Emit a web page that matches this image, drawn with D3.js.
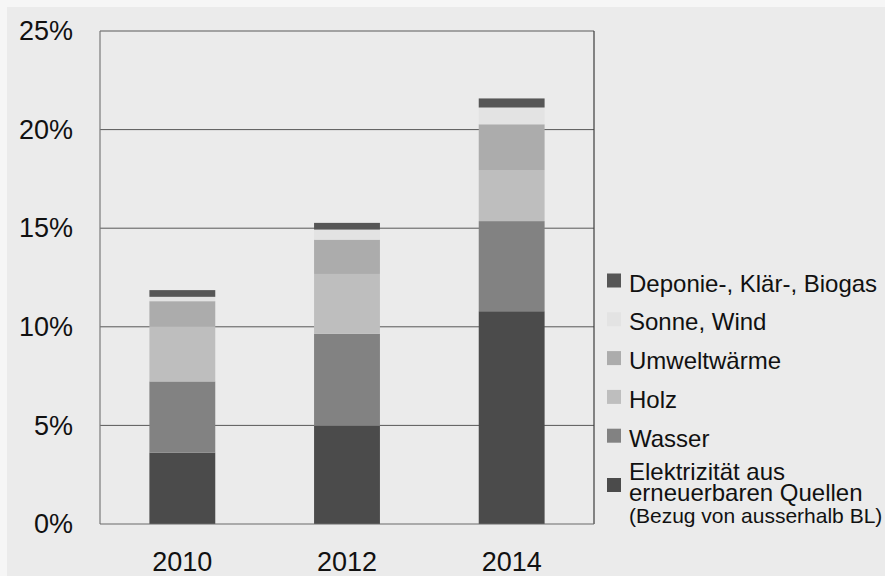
<!DOCTYPE html>
<html>
<head>
<meta charset="utf-8">
<script src="https://cdn.jsdelivr.net/npm/d3@7"></script>
<style>
  html, body { margin: 0; padding: 0; background: #f6f6f6; }
  svg { display: block; font-family: "Liberation Sans", Arial, sans-serif; }
</style>
</head>
<body>
<svg id="chart" width="885" height="576"></svg>
<script>
// Anteil erneuerbarer Energien, gestapelt nach Quelle (in %)
const years = ["2010", "2012", "2014"];
const sources = ["Elektrizität", "Wasser", "Holz", "Umweltwärme", "Sonne, Wind", "Deponie-, Klär-, Biogas"];
const elektrizitaet = [3.62, 4.98, 10.79];
const wasser        = [3.61, 4.67, 4.57];
const holz          = [2.80, 3.03, 2.59];
const umweltwaerme  = [1.27, 1.74, 2.32];
const sonneWind     = [0.22, 0.51, 0.85];
const deponieGas    = [0.34, 0.34, 0.46];
const yTicks = [0, 5, 10, 15, 20, 25];
const colors = ["#4b4b4b", "#828282", "#bebebe", "#acacac", "#e3e3e3", "#565656"];

// Legend entries, top to bottom; each entry is a list of [text, font size]
const legendItems = [
  { key: "Deponie-, Klär-, Biogas", lines: [["Deponie-, Klär-, Biogas", 24]] },
  { key: "Sonne, Wind", lines: [["Sonne, Wind", 24]] },
  { key: "Umweltwärme", lines: [["Umweltwärme", 24]] },
  { key: "Holz", lines: [["Holz", 24]] },
  { key: "Wasser", lines: [["Wasser", 24]] },
  { key: "Elektrizität", lines: [["Elektrizität aus", 24], ["erneuerbaren Quellen", 24], ["(Bezug von ausserhalb BL)", 21]] }
];

const seriesValues = [elektrizitaet, wasser, holz, umweltwaerme, sonneWind, deponieGas];
const table = years.map((yr, i) => {
  const row = { year: yr };
  sources.forEach((s, k) => { row[s] = seriesValues[k][i]; });
  return row;
});

const svg = d3.select("#chart");
const W = 885, H = 576;
const plot = { left: 100, right: 594, top: 31, bottom: 524 };

svg.append("rect").attr("x", 7).attr("y", 7).attr("width", W - 7).attr("height", H - 7).attr("fill", "#ebebeb");

const x = d3.scaleBand().domain(years).range([plot.left, plot.right]).paddingInner(0.6).paddingOuter(0.3);
const y = d3.scaleLinear().domain([0, 25]).range([plot.bottom, plot.top]);
const color = d3.scaleOrdinal().domain(sources).range(colors);

// Gridlines
svg.append("g")
  .selectAll("line")
  .data(yTicks.filter(t => t > 0 && t < 25))
  .join("line")
  .attr("x1", plot.left).attr("x2", plot.right)
  .attr("y1", d => y(d)).attr("y2", d => y(d))
  .attr("stroke", "#585858").attr("stroke-width", 1);

// Stacked bars
const stacked = d3.stack().keys(sources)(table);
svg.append("g")
  .selectAll("g")
  .data(stacked)
  .join("g")
  .attr("fill", d => color(d.key))
  .selectAll("rect")
  .data(d => d)
  .join("rect")
  .attr("x", d => x(d.data.year))
  .attr("width", x.bandwidth())
  .attr("y", d => y(d[1]))
  .attr("height", d => y(d[0]) - y(d[1]));

// Plot frame
const frame = svg.append("g").attr("fill", "none");
frame.append("line").attr("x1", plot.left).attr("x2", plot.right).attr("y1", plot.top).attr("y2", plot.top)
  .attr("stroke", "#8a8a8a").attr("stroke-width", 1.5);
frame.append("line").attr("x1", plot.right).attr("x2", plot.right).attr("y1", plot.top).attr("y2", plot.bottom)
  .attr("stroke", "#3c3c3c").attr("stroke-width", 1.2);
frame.append("line").attr("x1", plot.left).attr("x2", plot.left).attr("y1", plot.top).attr("y2", plot.bottom)
  .attr("stroke", "#7a7a7a").attr("stroke-width", 1.2);
frame.append("line").attr("x1", plot.left).attr("x2", plot.right).attr("y1", plot.bottom).attr("y2", plot.bottom)
  .attr("stroke", "#6a6a6a").attr("stroke-width", 1.2);

// Y axis labels
const yAxis = d3.axisLeft(y).tickValues(yTicks).tickFormat(d => d + "%").tickSize(0).tickPadding(27);
const yg = svg.append("g").attr("transform", `translate(${plot.left},0)`).call(yAxis);
yg.select(".domain").remove();
yg.selectAll("text").attr("font-size", 27).attr("fill", "#111").attr("font-family", "Liberation Sans, Arial, sans-serif");

// X axis labels
const xAxis = d3.axisBottom(x).tickSize(0).tickPadding(28);
const xg = svg.append("g").attr("transform", `translate(0,${plot.bottom})`).call(xAxis);
xg.select(".domain").remove();
xg.selectAll("text").attr("font-size", 27).attr("fill", "#111").attr("font-family", "Liberation Sans, Arial, sans-serif");

// Legend (multi-line entries are a single text element with tspans)
const legend = svg.append("g");
const baselines = [291.5, 330.3, 369.1, 407.9, 446.7, 479.5];
legendItems.forEach((item, i) => {
  const base = baselines[i];
  const nLines = item.lines.length;
  const sqCenter = nLines === 1 ? base - 11 : 485;
  legend.append("rect")
    .attr("x", 607).attr("y", sqCenter - 7)
    .attr("width", 14).attr("height", 14)
    .attr("fill", color(item.key));
  const t = legend.append("text")
    .attr("x", 629).attr("y", base)
    .attr("fill", "#111");
  item.lines.forEach((ln, j) => {
    t.append("tspan")
      .attr("x", 629)
      .attr("y", base + j * 21.8)
      .attr("font-size", ln[1])
      .text(ln[0]);
  });
});
</script>
</body>
</html>
